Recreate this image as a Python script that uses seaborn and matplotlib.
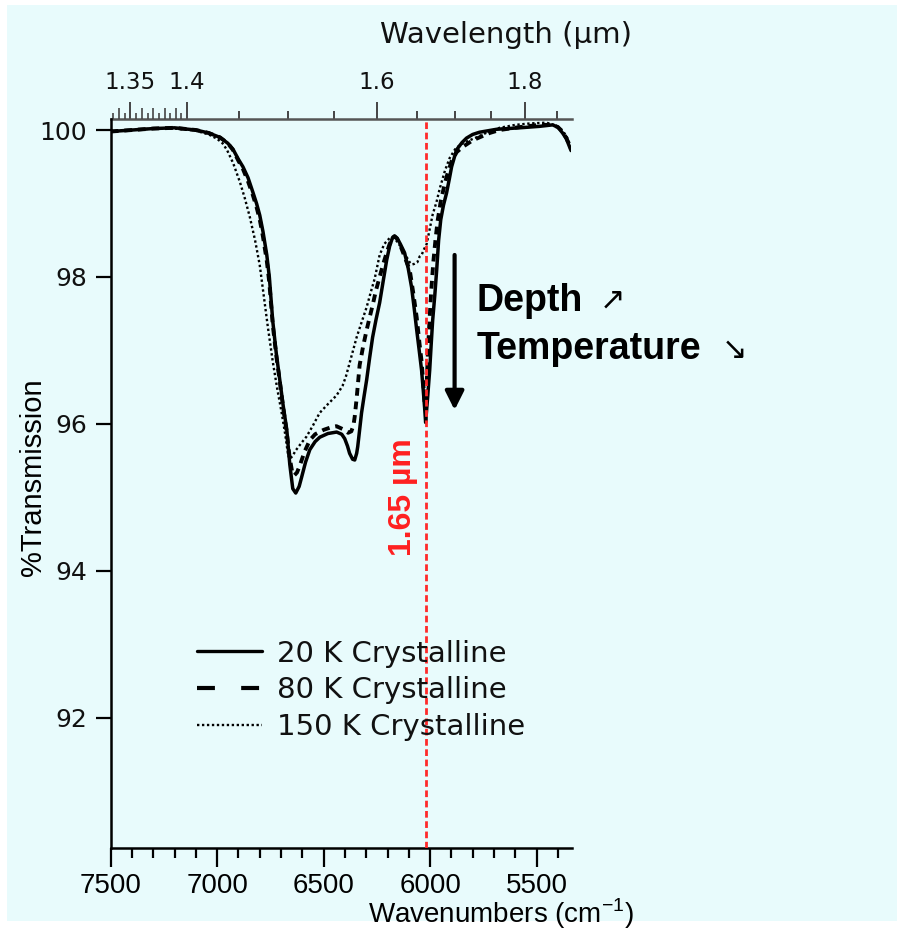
import numpy as np
import matplotlib
matplotlib.use("Agg")
import matplotlib.pyplot as plt
from matplotlib.lines import Line2D
from matplotlib.patches import Rectangle
from matplotlib.ticker import MultipleLocator
import seaborn as sns

# values (wavenumber cm-1, % transmission)
wn_20k = [7500, 7400, 7300, 7200, 7100, 7040, 6987, 6950, 6926, 6900, 6879, 6855, 6833, 6815,
          6800, 6785, 6767, 6755, 6739, 6722, 6706, 6690, 6673, 6659, 6645, 6631, 6615, 6603,
          6585, 6565, 6540, 6518, 6480, 6439, 6415, 6401, 6388, 6378, 6364, 6354, 6345, 6340,
          6331, 6322, 6310, 6298, 6284, 6270, 6254, 6237, 6220, 6204, 6190, 6176, 6167, 6155,
          6140, 6120, 6103, 6087, 6075, 6063, 6052, 6040, 6032, 6026, 6021, 6012, 6002, 5995,
          5988, 5978, 5969, 5960, 5950, 5937, 5923, 5910, 5899, 5876, 5850, 5829, 5800, 5768,
          5688, 5580, 5486, 5425, 5400, 5378, 5360, 5345, 5338]
tr_20k = [99.98, 100.00, 100.02, 100.03, 100.00, 99.96, 99.90, 99.82, 99.74, 99.60, 99.50, 99.35, 99.16, 99.00,
          98.84, 98.62, 98.30, 98.00, 97.40, 96.95, 96.60, 96.25, 95.92, 95.45, 95.12, 95.06, 95.15, 95.28,
          95.48, 95.65, 95.76, 95.82, 95.87, 95.89, 95.86, 95.80, 95.70, 95.60, 95.52, 95.51, 95.60, 95.69,
          95.92, 96.15, 96.38, 96.60, 96.90, 97.18, 97.42, 97.65, 97.95, 98.23, 98.42, 98.54, 98.56, 98.53,
          98.45, 98.33, 98.12, 97.86, 97.58, 97.28, 97.02, 96.73, 96.45, 96.23, 96.02, 96.35, 96.73, 97.08,
          97.41, 97.75, 98.10, 98.50, 98.78, 98.98, 99.14, 99.33, 99.50, 99.73, 99.83, 99.89, 99.94, 99.97,
          100.01, 100.03, 100.05, 100.07, 100.04, 99.96, 99.88, 99.77, 99.72]

wn_80k = [7500, 7400, 7300, 7200, 7100, 7040, 6987, 6950, 6926, 6900, 6879, 6855, 6833, 6815,
          6800, 6785, 6767, 6755, 6739, 6722, 6706, 6690, 6673, 6660, 6648, 6638, 6625, 6610,
          6590, 6565, 6540, 6500, 6460, 6440, 6410, 6385, 6370, 6360, 6354, 6345, 6331, 6315,
          6298, 6284, 6268, 6254, 6237, 6220, 6204, 6190, 6176, 6167, 6155, 6140, 6120, 6110,
          6096, 6080, 6063, 6050, 6040, 6032, 6026, 6021, 6016, 6010, 6003, 5995, 5985, 5975,
          5965, 5950, 5935, 5923, 5900, 5875, 5847, 5800, 5768, 5720, 5674, 5580, 5486, 5425,
          5400, 5378, 5360, 5345, 5338]
tr_80k = [99.98, 100.00, 100.02, 100.03, 100.00, 99.96, 99.90, 99.82, 99.73, 99.58, 99.47, 99.30, 99.12, 98.95,
          98.78, 98.55, 98.22, 97.92, 97.35, 96.92, 96.58, 96.22, 95.88, 95.55, 95.35, 95.30, 95.34, 95.45,
          95.62, 95.78, 95.86, 95.92, 95.96, 95.97, 95.93, 95.88, 95.90, 95.98, 96.10, 96.35, 96.80, 97.05,
          97.28, 97.45, 97.64, 97.82, 98.00, 98.18, 98.33, 98.45, 98.53, 98.55, 98.52, 98.43, 98.28, 98.20,
          98.10, 97.80, 97.45, 97.10, 96.85, 96.55, 96.30, 96.20, 96.55, 97.00, 97.40, 97.80, 98.20, 98.50,
          98.76, 99.03, 99.22, 99.36, 99.57, 99.70, 99.77, 99.86, 99.90, 99.96, 100.00, 100.04, 100.07, 100.07,
          100.04, 99.98, 99.89, 99.79, 99.74]

wn_150k = [7500, 7400, 7300, 7200, 7100, 7040, 7000, 6975, 6954, 6925, 6893, 6870, 6847, 6822,
           6800, 6786, 6762, 6739, 6718, 6697, 6680, 6668, 6659, 6645, 6631, 6605, 6580, 6550,
           6519, 6480, 6439, 6411, 6395, 6378, 6360, 6345, 6320, 6298, 6280, 6260, 6237, 6215,
           6190, 6181, 6160, 6140, 6129, 6110, 6096, 6084, 6073, 6060, 6049, 6040, 6028, 6016,
           6002, 5988, 5970, 5955, 5930, 5908, 5880, 5847, 5815, 5782, 5730, 5674, 5600, 5530,
           5453, 5410, 5378, 5360, 5345, 5338]
tr_150k = [99.99, 100.00, 100.02, 100.02, 99.99, 99.94, 99.88, 99.82, 99.73, 99.55, 99.29, 99.07, 98.82, 98.50,
           98.16, 97.85, 97.32, 96.85, 96.48, 96.15, 95.85, 95.60, 95.52, 95.57, 95.64, 95.74, 95.83, 95.98,
           96.15, 96.27, 96.39, 96.52, 96.65, 96.83, 97.02, 97.18, 97.40, 97.59, 97.78, 97.98, 98.30, 98.45,
           98.53, 98.54, 98.50, 98.42, 98.37, 98.27, 98.20, 98.17, 98.18, 98.20, 98.28, 98.30, 98.38, 98.45,
           98.65, 98.85, 99.02, 99.20, 99.45, 99.62, 99.75, 99.82, 99.86, 99.90, 99.97, 100.03, 100.07, 100.09,
           100.10, 100.06, 99.99, 99.92, 99.82, 99.76]

series_labels = ["20 K Crystalline", "80 K Crystalline", "150 K Crystalline"]
wn_ticks = [7500, 7000, 6500, 6000, 5500]
tr_ticks = [92, 94, 96, 98, 100]
um_ticks = [1.35, 1.4, 1.6, 1.8]
um_labels = ["1.35", "1.4", "1.6", "1.8"]
um_minor = [1.45, 1.5, 1.55, 1.65, 1.7, 1.75, 1.85]
um_fine_a = [1.34, 1.36, 1.37, 1.38, 1.39]
um_fine_b = [1.335, 1.345, 1.355, 1.365, 1.375, 1.385, 1.395]
marker_wn = 6020
marker_label = "1.65 µm"

W, H = 904, 938
bg = "#e8fbfc"

sns.set_style("ticks")
plt.rcParams["font.family"] = ["DejaVu Sans"]
plt.rcParams.update({"text.color": "black", "axes.labelcolor": "black",
                     "xtick.color": "black", "ytick.color": "black"})

fig = plt.figure(figsize=(W / 100, H / 100), dpi=100, facecolor="white")
fig.patches.append(Rectangle((7 / W, 1 - 921 / H), 890 / W, 916 / H, transform=fig.transFigure,
                             facecolor=bg, edgecolor="none", zorder=-1))
ax = fig.add_axes([110.7 / W, 1 - 848 / H, 460.8 / W, 729 / H])
ax.patch.set_alpha(0)

# curves
sns.lineplot(x=wn_20k, y=tr_20k, ax=ax, color="black", lw=2.5, linestyle="-",
             sort=False, estimator=None, legend=False)
sns.lineplot(x=wn_80k, y=tr_80k, ax=ax, color="black", lw=2.8, linestyle=(0, (2.0, 1.5)),
             sort=False, estimator=None, legend=False)
sns.lineplot(x=wn_150k, y=tr_150k, ax=ax, color="black", lw=1.7, linestyle=(0, (1, 1.1)),
             sort=False, estimator=None, legend=False)

ax.set_xlim(7500, 5336)
ax.set_ylim(90.23, 100.15)

# red marker line
ax.axvline(marker_wn, color="#ff2a2a", lw=2, linestyle=(0, (2.4, 1.3)), zorder=5)
ax.text(6128, 95.0, marker_label, rotation=90, color="#ff2020", fontweight="bold", fontsize=23,
        family="Liberation Sans", ha="center", va="center")

# black arrow
ax.annotate("", xy=(5885, 96.19), xytext=(5885, 98.30),
            arrowprops=dict(arrowstyle="-|>", color="black", lw=3, mutation_scale=28,
                            shrinkA=0, shrinkB=0))

fig.text(477 / W, 1 - 311 / H, "Depth", fontsize=27, fontweight="bold", family="Liberation Sans",
         va="baseline", ha="left", color="black")
fig.text(612 / W, 1 - 300 / H, "↗", fontsize=22, family="DejaVu Sans", ha="center", va="center")
fig.text(477 / W, 1 - 359 / H, "Temperature", fontsize=27, fontweight="bold", family="Liberation Sans",
         va="baseline", ha="left", color="black")
fig.text(735 / W, 1 - 350 / H, "↘", fontsize=22, family="DejaVu Sans", ha="center", va="center")

# bottom / left axes
ax.spines["top"].set_visible(False)
ax.spines["right"].set_visible(False)
for s in ["left", "bottom"]:
    ax.spines[s].set_linewidth(1.8)
    ax.spines[s].set_color("black")
ax.set_xticks(wn_ticks)
ax.xaxis.set_minor_locator(MultipleLocator(100))
ax.set_yticks(tr_ticks)
ax.tick_params(axis="x", which="major", length=14, width=1.6, pad=4, labelsize=20,
               labelfontfamily="Liberation Sans")
ax.tick_params(axis="x", which="minor", length=7, width=1.6)
ax.tick_params(axis="y", which="major", length=11, width=1.6, pad=6, labelsize=18,
               labelcolor="#111111")
ax.set_xlabel("Wavenumbers (cm$^{\\mathregular{-1}}$)", fontsize=20, family="Liberation Sans")
ax.xaxis.set_label_coords(0.847, -0.067)
ax.set_ylabel("%Transmission", fontsize=21, family="Liberation Sans")
ax.yaxis.set_label_coords(-0.138, 0.508)


# top wavelength axis
def wn_to_um(x):
    x = np.asarray(x, dtype=float)
    with np.errstate(divide="ignore"):
        return 1e4 / x


sec = ax.secondary_xaxis("top", functions=(wn_to_um, wn_to_um))
sec.set_xticks(um_ticks)
sec.set_xticklabels(um_labels)
sec.set_xticks(um_minor, minor=True)
sec.tick_params(which="major", length=12, width=1.4, pad=6, labelsize=16.5, color="#444444",
                labelcolor="#111111")
sec.tick_params(which="minor", length=6, width=1.4, color="#444444")
for s in sec.spines.values():
    s.set_linewidth(1.8)
    s.set_color("#555555")
fig.text(506 / W, 1 - 35 / H, "Wavelength (µm)", fontsize=21, ha="center", va="center",
         color="#111111")

fine = ax.secondary_xaxis("top", functions=(wn_to_um, wn_to_um))
fine.set_xticks(um_fine_a)
fine.set_xticklabels([""] * len(um_fine_a))
fine.set_xticks(um_fine_b, minor=True)
fine.tick_params(which="major", length=8, width=1.2, color="#444444")
fine.tick_params(which="minor", length=4.5, width=1.2, color="#444444")
for s in fine.spines.values():
    s.set_visible(False)

# legend
handles = [Line2D([], [], color="black", lw=2.4),
           Line2D([], [], color="black", lw=3, linestyle=(0, (4.3, 6.3))),
           Line2D([], [], color="black", lw=1.7, linestyle=(0, (1, 1.1)))]
leg = ax.legend(handles, series_labels, loc="upper left", bbox_to_anchor=(0.187, 0.286), frameon=False,
                fontsize=21, handlelength=2.25, handletextpad=0.5, labelspacing=0.3,
                borderpad=0, borderaxespad=0)
for t in leg.get_texts():
    t.set_color("#111111")

fig.savefig("out.png", dpi=100, facecolor=fig.get_facecolor())
